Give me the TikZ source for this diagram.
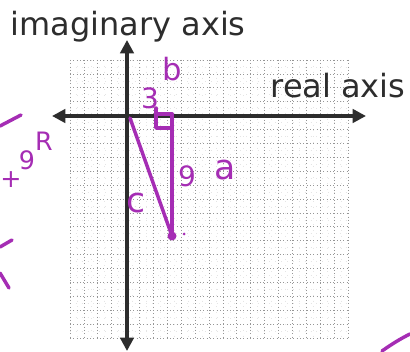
\documentclass[tikz,border=0pt]{standalone}
\usepackage{fontspec}
\setmainfont{DejaVu Sans}
\usetikzlibrary{arrows.meta}
\definecolor{mag}{RGB}{165,45,180}
\definecolor{axisgray}{RGB}{45,45,45}
\definecolor{gridgray}{RGB}{150,150,150}
\tikzset{
  majorgrid/.style={gridgray, line width=0.5pt, dotted},
  minorgrid/.style={gridgray!25, line width=0.4pt, loosely dotted},
  axisboth/.style={axisgray, line width=3pt, {Triangle[length=10pt,width=10pt]}-{Triangle[length=10pt,width=10pt]}},
  axislabel/.style={text=axisgray, font=\fontsize{24}{28}\selectfont, inner sep=0pt},
  ink/.style={mag, line width=2.6pt, line cap=round, line join=round},
  hand/.style={text=mag, inner sep=0pt, font=\fontsize{21}{24}\selectfont},
}
\begin{document}
\begin{tikzpicture}[x=0.75pt,y=-0.75pt]
\useasboundingbox (0,0) rectangle (410,352);
\fill[white] (0,0) rectangle (410,352);
% grid
\foreach \i in {0,...,19} {
  \draw[minorgrid] ({70+13.9*\i+6.95},60) -- ({70+13.9*\i+6.95},338);
  \draw[minorgrid] (70,{60+13.9*\i+6.95}) -- (348,{60+13.9*\i+6.95});
}
\foreach \i in {0,...,20} {
  \draw[majorgrid] ({70+13.9*\i},60) -- ({70+13.9*\i},338);
  \draw[majorgrid] (70,{60+13.9*\i}) -- (348,{60+13.9*\i});
}
% axes
\coordinate (xl) at (52,116);
\coordinate (xr) at (366,116);
\coordinate (yt) at (127,40);
\coordinate (yb) at (127,351);
\draw[axisboth] (xl) -- (xr);
\draw[axisboth] (yt) -- (yb);
\node[axislabel, anchor=base] (imlab) at (128,36) {imaginary axis};
\node[axislabel, anchor=base] (relab) at (338,98) {real axis};
% triangle
\coordinate (O) at (130,118);
\coordinate (P) at (172,236);
\coordinate (Q) at (172,114);
\draw[ink] (O) -- (P);
\draw[ink] (P) -- (Q);
\draw[ink] (Q) -- (156,114);
\draw[ink] (156,108) -- (156,128) -- (172,128);
\fill[mag] (P) circle (4.5);
\fill[mag] (172,145) circle (2.2);
\fill[mag] (184,234) circle (1.5);
% handwritten labels
\node[hand] (l3) at (150,98) {3};
\node[hand, font=\fontsize{23}{26}\selectfont] (lb) at (172,69) {b};
\node[hand] (l9) at (187,176) {9};
\node[hand, font=\fontsize{26}{28}\selectfont] (la) at (225,170) {a};
\node[hand, font=\fontsize{26}{28}\selectfont] (lc) at (136,203) {c};
% left-edge handwriting, letters set upright along a diagonal
\node[hand, font=\fontsize{19}{22}\selectfont] (lplus) at (11,180) {+};
\node[hand, font=\fontsize{19}{22}\selectfont] (lnine) at (27,160) {9};
\node[hand, font=\fontsize{19}{22}\selectfont] (lR) at (44,141) {R};
% scribble strokes cut by the edge
\draw[ink] (21,115) -- (0,126);
\draw[ink] (12,240) -- (0,247);
\draw[ink] (0,273) -- (9,288);
\draw[ink] (382,351) .. controls (392,344) and (400,339) .. (410,334);
\end{tikzpicture}
\end{document}
